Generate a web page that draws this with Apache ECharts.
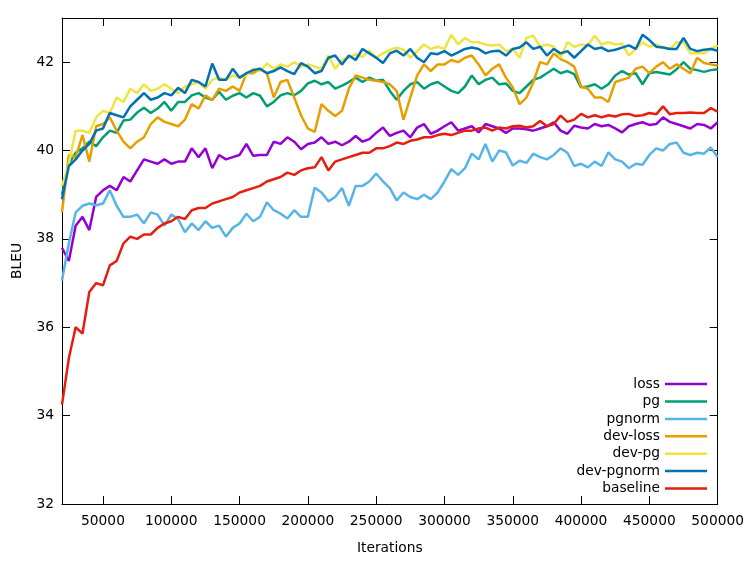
<!DOCTYPE html>
<html>
<head>
<meta charset="utf-8">
<script src="https://cdn.jsdelivr.net/npm/echarts@6/dist/echarts.min.js"></script>
<style>html,body{margin:0;padding:0;background:#fff}#c{width:747px;height:561px}</style>
</head>
<body>
<div id="c"></div>
<script>
const iterations = [20000,25000,30000,35000,40000,45000,50000,55000,60000,65000,
70000,75000,80000,85000,90000,95000,100000,105000,110000,115000,
120000,125000,130000,135000,140000,145000,150000,155000,160000,165000,
170000,175000,180000,185000,190000,195000,200000,205000,210000,215000,
220000,225000,230000,235000,240000,245000,250000,255000,260000,265000,
270000,275000,280000,285000,290000,295000,300000,305000,310000,315000,
320000,325000,330000,335000,340000,345000,350000,355000,360000,365000,
370000,375000,380000,385000,390000,395000,400000,405000,410000,415000,
420000,425000,430000,435000,440000,445000,450000,455000,460000,465000,
470000,475000,480000,485000,490000,495000,500000];

const loss = [37.8,37.5,38.3,38.5,38.2,38.95,39.1,39.2,39.1,39.4,
39.3,39.55,39.8,39.75,39.7,39.8,39.7,39.75,39.75,40.05,
39.85,40.05,39.6,39.9,39.8,39.85,39.9,40.15,39.88,39.9,
39.9,40.2,40.15,40.3,40.2,40.03,40.15,40.18,40.3,40.15,
40.2,40.12,40.2,40.33,40.2,40.26,40.4,40.52,40.33,40.4,
40.45,40.3,40.52,40.6,40.38,40.45,40.55,40.64,40.45,40.5,
40.55,40.41,40.6,40.55,40.5,40.4,40.5,40.5,40.48,40.45,
40.5,40.55,40.64,40.45,40.38,40.56,40.52,40.5,40.6,40.55,
40.58,40.5,40.41,40.55,40.6,40.64,40.58,40.6,40.75,40.65,
40.6,40.55,40.5,40.6,40.58,40.5,40.64];

const pg = [39.0,39.7,39.95,40.05,40.2,40.1,40.3,40.45,40.4,40.68,
40.7,40.86,40.97,40.85,40.95,41.1,40.9,41.1,41.1,41.25,
41.3,41.2,41.15,41.33,41.15,41.24,41.3,41.2,41.3,41.24,
41.0,41.1,41.25,41.3,41.25,41.35,41.52,41.58,41.5,41.55,
41.4,41.47,41.55,41.65,41.55,41.65,41.58,41.6,41.35,41.15,
41.35,41.5,41.55,41.4,41.5,41.55,41.45,41.35,41.3,41.45,
41.7,41.5,41.6,41.65,41.5,41.52,41.35,41.3,41.45,41.6,
41.65,41.75,41.85,41.75,41.8,41.73,41.43,41.45,41.5,41.4,
41.5,41.7,41.8,41.72,41.75,41.5,41.75,41.78,41.75,41.72,
41.84,42.0,41.85,41.82,41.78,41.82,41.84];

const pgnorm = [37.06,37.9,38.6,38.75,38.8,38.76,38.8,39.1,38.75,38.5,
38.5,38.55,38.35,38.6,38.55,38.3,38.55,38.45,38.15,38.35,
38.2,38.4,38.25,38.3,38.05,38.25,38.35,38.57,38.4,38.5,
38.83,38.65,38.57,38.46,38.65,38.5,38.5,39.16,39.05,38.85,
38.95,39.15,38.75,39.2,39.2,39.3,39.48,39.3,39.15,38.87,
39.05,38.95,38.9,39.0,38.9,39.05,39.3,39.58,39.45,39.6,
39.93,39.8,40.15,39.75,40.0,39.96,39.66,39.77,39.72,39.93,
39.85,39.8,39.9,40.05,39.95,39.65,39.7,39.62,39.75,39.65,
39.96,39.8,39.75,39.6,39.7,39.68,39.9,40.05,40.0,40.15,
40.18,39.95,39.9,39.95,39.93,40.07,39.85];

const devLoss = [38.6,39.9,39.85,40.35,39.75,40.55,40.6,40.75,40.45,40.2,
40.05,40.2,40.3,40.6,40.75,40.65,40.6,40.55,40.7,41.05,
40.95,41.25,41.14,41.4,41.35,41.45,41.35,41.75,41.75,41.85,
41.75,41.2,41.55,41.6,41.2,40.8,40.5,40.42,41.05,40.9,
40.78,40.9,41.4,41.7,41.65,41.6,41.58,41.55,41.5,41.35,
40.7,41.2,41.7,41.95,41.8,41.95,41.95,42.05,42.0,42.1,
42.15,41.95,41.7,41.85,41.95,41.65,41.43,41.05,41.2,41.54,
42.0,41.95,42.2,42.07,42.0,41.9,41.45,41.4,41.2,41.2,
41.1,41.55,41.6,41.65,41.85,41.9,41.75,41.9,42.0,41.85,
41.95,41.85,41.75,42.1,41.98,41.95,41.92];

const devPg = [39.2,39.7,40.45,40.45,40.4,40.75,40.9,40.85,41.2,41.1,
41.4,41.3,41.5,41.35,41.4,41.5,41.4,41.3,41.45,41.5,
41.55,41.4,41.6,41.65,41.6,41.7,41.65,41.7,41.85,41.8,
41.97,41.85,41.95,41.9,42.0,41.9,41.95,41.9,41.85,42.15,
41.85,42.05,42.1,42.18,42.12,42.26,42.1,42.2,42.28,42.33,
42.28,42.1,42.25,42.4,42.3,42.35,42.3,42.62,42.4,42.55,
42.45,42.45,42.4,42.38,42.4,42.25,42.3,42.1,42.55,42.6,
42.35,42.4,42.35,42.1,42.45,42.35,42.4,42.38,42.6,42.4,
42.45,42.4,42.42,42.15,42.3,42.45,42.35,42.4,42.33,42.3,
42.45,42.45,42.2,42.2,42.2,42.3,42.38];

const devPgnorm = [38.9,39.65,39.8,40.0,40.15,40.45,40.5,40.85,40.8,40.75,
41.0,41.15,41.3,41.15,41.2,41.3,41.25,41.42,41.3,41.6,
41.55,41.45,41.97,41.6,41.6,41.85,41.65,41.75,41.82,41.85,
41.75,41.8,41.88,41.8,41.73,41.98,41.9,41.75,41.8,42.1,
42.15,41.95,42.15,42.05,42.3,42.2,42.1,41.98,42.2,42.26,
42.15,42.3,42.1,42.0,42.2,42.18,42.25,42.15,42.22,42.3,
42.33,42.3,42.2,42.25,42.26,42.15,42.3,42.33,42.45,42.3,
42.35,42.15,42.3,42.2,42.25,42.1,42.25,42.4,42.3,42.33,
42.25,42.28,42.33,42.38,42.3,42.62,42.5,42.35,42.33,42.3,
42.3,42.55,42.3,42.25,42.28,42.3,42.26];

const baseline = [34.25,35.3,36.0,35.86,36.8,37.0,36.95,37.4,37.5,37.9,
38.05,38.0,38.1,38.1,38.25,38.35,38.4,38.5,38.45,38.65,
38.7,38.7,38.8,38.85,38.9,38.95,39.05,39.1,39.15,39.2,
39.3,39.35,39.4,39.5,39.45,39.55,39.6,39.62,39.85,39.55,
39.75,39.8,39.85,39.9,39.95,39.95,40.05,40.05,40.1,40.18,
40.15,40.22,40.25,40.3,40.3,40.35,40.38,40.35,40.4,40.45,
40.45,40.5,40.52,40.45,40.52,40.5,40.55,40.56,40.52,40.55,
40.67,40.55,40.6,40.79,40.65,40.7,40.83,40.75,40.8,40.75,
40.8,40.77,40.82,40.83,40.78,40.8,40.85,40.82,41.0,40.82,
40.85,40.85,40.86,40.85,40.85,40.96,40.88];

const seriesNames = ['loss','pg','pgnorm','dev-loss','dev-pg','dev-pgnorm','baseline'];
const seriesValues = [loss, pg, pgnorm, devLoss, devPg, devPgnorm, baseline];
const seriesColors = ['#9400d3','#009e73','#56b4e9','#e69f00','#f0e442','#0072b2','#e51e10'];

const xTicks = [50000,100000,150000,200000,250000,300000,350000,400000,450000,500000];
const yTicks = [32,34,36,38,40,42];

const FONT = 'DejaVu Sans';
const FS = 13.8;
const chart = echarts.init(document.getElementById('c'), null, {renderer:'canvas'});

const axisLineStyle = {show:true, lineStyle:{color:'#000', width:1}};
const tickStyle = (vals) => ({show:true, inside:true, length:8, customValues: vals, lineStyle:{color:'#000', width:1}});

const legendTops = [384, 401.5, 419, 436.3, 453.7, 471, 488.5];
const legends = seriesNames.map((n, i) => ({
  data: [n],
  right: 40,
  top: legendTops[i] - 7,
  orient: 'horizontal',
  align: 'right',
  icon: 'rect',
  itemWidth: 42,
  itemHeight: 2.5,
  selectedMode: false,
  padding: 0,
  textStyle: {fontFamily: FONT, fontSize: FS, color: '#000', padding:[0,0,0,0]}
}));

const plain = v => String(v);

const option = {
  animation: false,
  backgroundColor: '#fff',
  grid: {left: 62, right: 25, top: 18, bottom: 57, containLabel: false},
  legend: legends,
  xAxis: [
    {type:'value', min:20000, max:500000, position:'bottom',
     name:'Iterations', nameLocation:'middle', nameGap:37,
     nameTextStyle:{fontFamily:FONT, fontSize:FS, color:'#000'},
     axisLine: axisLineStyle, axisTick: tickStyle(xTicks),
     axisLabel:{show:true, customValues:xTicks, formatter: plain, margin:10, fontFamily:FONT, fontSize:FS, color:'#000'},
     splitLine:{show:false}},
    {type:'value', min:20000, max:500000, position:'top',
     axisLine: axisLineStyle, axisTick: tickStyle(xTicks),
     axisLabel:{show:false}, splitLine:{show:false}}
  ],
  yAxis: [
    {type:'value', min:32, max:43, position:'left',
     name:'BLEU', nameLocation:'middle', nameGap:38,
     nameTextStyle:{fontFamily:FONT, fontSize:FS, color:'#000'},
     axisLine: axisLineStyle, axisTick: tickStyle(yTicks),
     axisLabel:{show:true, customValues:yTicks, formatter: plain, margin:8, fontFamily:FONT, fontSize:FS, color:'#000'},
     splitLine:{show:false}},
    {type:'value', min:32, max:43, position:'right',
     axisLine: axisLineStyle, axisTick: tickStyle(yTicks),
     axisLabel:{show:false}, splitLine:{show:false}}
  ],
  series: seriesNames.map((n, i) => ({
    name: n,
    type: 'line',
    xAxisIndex: 0,
    yAxisIndex: 0,
    showSymbol: false,
    symbol: 'none',
    clip: true,
    color: seriesColors[i],
    lineStyle: {width: 2.5, color: seriesColors[i]},
    data: iterations.map((x, j) => [x, seriesValues[i][j]])
  }))
};
chart.setOption(option);
</script>
</body>
</html>
